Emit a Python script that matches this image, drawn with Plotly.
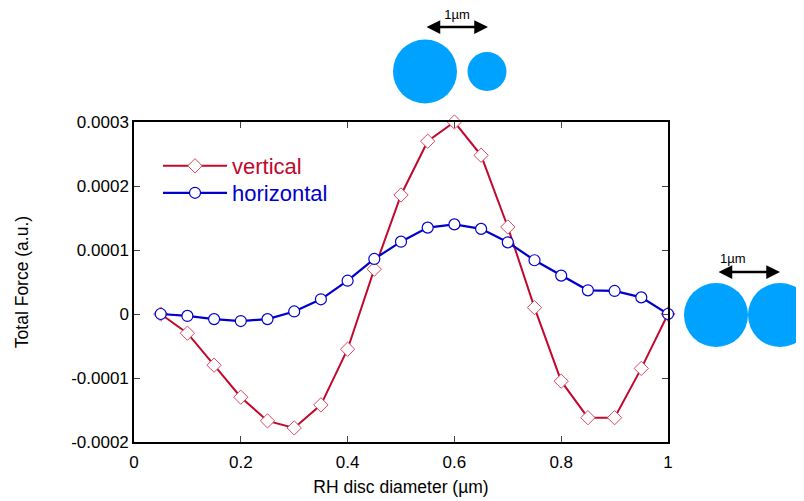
import plotly.graph_objects as go

diam = [0.05, 0.1, 0.15, 0.2, 0.25, 0.3, 0.35, 0.4, 0.45, 0.5,
        0.55, 0.6, 0.65, 0.7, 0.75, 0.8, 0.85, 0.9, 0.95, 1.0]
vertical = [0.0, -0.00003, -0.00008, -0.00013, -0.000167, -0.000178, -0.000142, -0.000055, 0.00007, 0.000186,
            0.00027, 0.0003, 0.000248, 0.000136, 0.00001, -0.000105, -0.000162, -0.000162, -0.000085, 0.0]
horizontal = [0.0, -0.000003, -0.000008, -0.000011, -0.000008, 0.000004, 0.000023, 0.000052, 0.000086, 0.000113,
              0.000135, 0.00014, 0.000133, 0.000112, 0.000084, 0.00006, 0.000037, 0.000036, 0.000026, 0.0]

x_ticks = [0, 0.2, 0.4, 0.6, 0.8, 1]
x_ticktext = ["0", "0.2", "0.4", "0.6", "0.8", "1"]
y_ticks = [-0.0002, -0.0001, 0, 0.0001, 0.0002, 0.0003]
y_ticktext = ["-0.0002", "-0.0001", "0", "0.0001", "0.0002", "0.0003"]

RED = "#C0092E"
BLUE = "#0000CC"
DISC = "#00A2FF"

fig = go.Figure()
fig.add_trace(go.Scatter(
    x=diam, y=vertical, mode="lines+markers",
    name='<span style="color:#C0092E">vertical</span>',
    line=dict(color=RED, width=2),
    marker=dict(symbol="diamond", size=11, color="white", line=dict(color="#D9475F", width=1)),
    cliponaxis=False, legend="legend",
))
fig.add_trace(go.Scatter(
    x=diam, y=horizontal, mode="lines+markers",
    name='<span style="color:#0000CC">horizontal</span>',
    line=dict(color=BLUE, width=2.2),
    marker=dict(symbol="circle", size=11, color="white", line=dict(color=BLUE, width=1.2)),
    cliponaxis=False, legend="legend2",
))

# plot area in page pixels (page has an 8px body offset)
PL, PR, PT, PB = 134, 668, 122, 442
W, H = 804, 501
OFF = 8


def px(xp):
    return (xp - PL) / (PR - PL)


def py(yp):
    return (PB - yp) / (PB - PT)


def disc(cx, cy, r):
    fig.add_shape(type="circle", xref="paper", yref="paper",
                  xsizemode="pixel", ysizemode="pixel",
                  xanchor=px(cx), yanchor=py(cy),
                  x0=-r, x1=r, y0=-r, y1=r,
                  fillcolor=DISC, line=dict(width=0), layer="above")


def arrow(x0, x1, y):
    fig.add_annotation(xref="paper", yref="paper", x=px(x1), y=py(y), ax=x0 - x1, ay=0,
                       axref="pixel", ayref="pixel", showarrow=True, arrowhead=2, arrowside="end+start",
                       arrowsize=1.1, arrowwidth=2.5, arrowcolor="black", text="")


disc(425, 71.5, 32)
disc(487, 71.5, 19.5)
arrow(425, 488, 27)
disc(716, 315, 32)
disc(780, 315, 32)
arrow(717, 780, 272)
fig.add_annotation(xref="paper", yref="paper", x=px(748), y=py(258), text="1µm", showarrow=False,
                   font=dict(size=13, color="black"))

leg_common = dict(xanchor="left", yanchor="middle", bgcolor="rgba(0,0,0,0)",
                  font=dict(size=22), itemwidth=64)

fig.update_layout(
    width=W, height=H,
    margin=dict(l=PL - OFF, r=W - PR + OFF, t=PT - OFF, b=H - PB + OFF, autoexpand=False),
    paper_bgcolor="white", plot_bgcolor="white",
    font=dict(family="Liberation Sans, Arial, sans-serif", size=17, color="black"),
    title=dict(text="1µm", xref="container", yref="container", x=(457 - OFF) / W, xanchor="center",
               y=1, yanchor="top", pad=dict(t=2, b=0, l=0, r=0), font=dict(size=13, color="black")),
    showlegend=True,
    legend=dict(x=px(158), y=py(166), **leg_common),
    legend2=dict(x=px(158), y=py(193), **leg_common),
    xaxis=dict(range=[0, 1], tickvals=x_ticks, ticktext=x_ticktext, ticks="inside", ticklen=6,
               tickwidth=1, mirror="ticks", showline=True, linecolor="black", linewidth=1.5,
               showgrid=False, zeroline=False, ticklabelstandoff=4, automargin=False,
               title=dict(text="RH disc diameter (µm)", font=dict(size=17.5), standoff=10)),
    yaxis=dict(range=[-0.0002, 0.0003], tickvals=y_ticks, ticktext=y_ticktext, ticks="inside", ticklen=6,
               tickwidth=1, mirror="ticks", showline=True, linecolor="black", linewidth=1.5,
               showgrid=False, zeroline=False, automargin=False,
               title=dict(text="Total Force (a.u.)", font=dict(size=17.5), standoff=38)),
)

fig.write_html("out.html")
